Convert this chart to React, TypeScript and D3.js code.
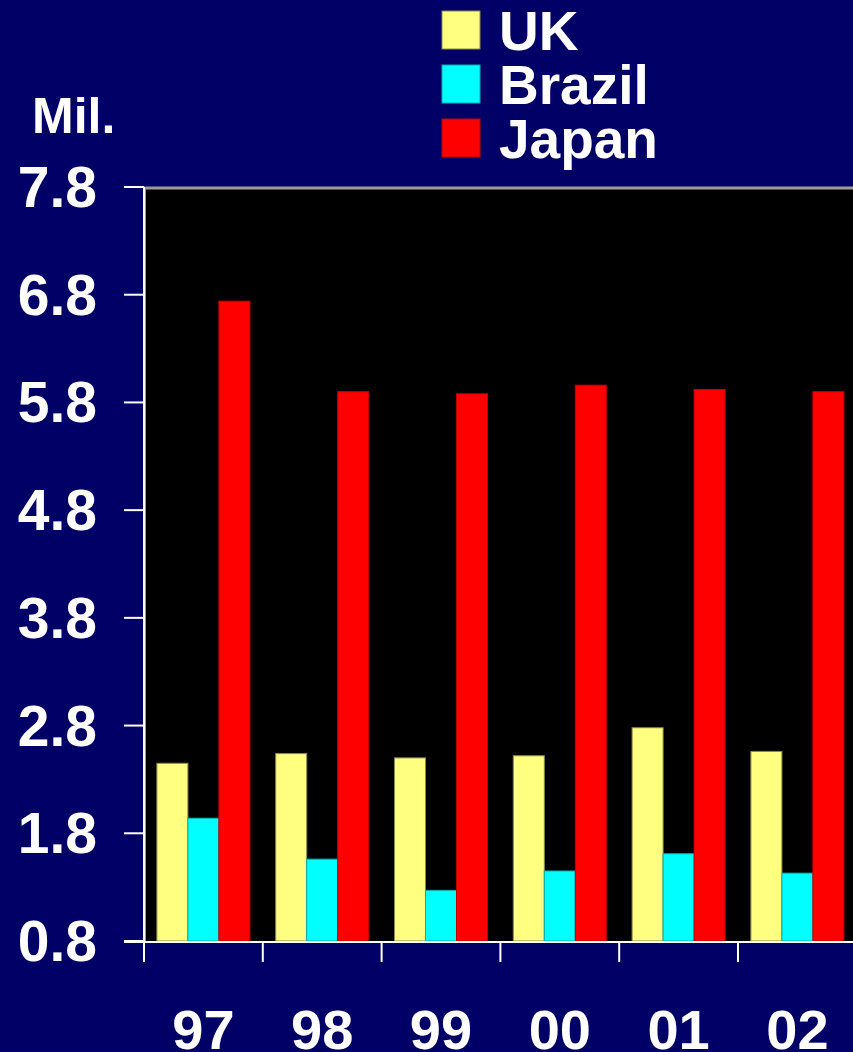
import React from "react";
import * as d3 from "d3";

const years = ["97", "98", "99", "00", "01", "02"];
const seriesNames = ["UK", "Brazil", "Japan"];
const ukValues = [2.45, 2.54, 2.5, 2.52, 2.78, 2.56];
const brazilValues = [1.94, 1.56, 1.27, 1.45, 1.61, 1.43];
const japanValues = [6.74, 5.9, 5.88, 5.96, 5.92, 5.9];
const yTicks = [0.8, 1.8, 2.8, 3.8, 4.8, 5.8, 6.8, 7.8];
const seriesColors = ["#ffff80", "#00ffff", "#ff0000"];
const seriesStrokes = ["#8a8a50", "#00b0b0", "#c00000"];

const W = 853;
const H = 1052;
const FONT = "'Liberation Sans', Arial, Helvetica, sans-serif";

export default function App() {
  const plotLeft = 144;
  const step = 118.8;
  const plotTop = 187;
  const plotBottom = 941;

  const x = d3
    .scaleBand<string>()
    .domain(years)
    .range([plotLeft, plotLeft + step * years.length])
    .padding(0);
  const groupWidth = 93;
  const xs = d3.scaleBand<string>().domain(seriesNames).range([0, groupWidth]).padding(0);
  const y = d3.scaleLinear().domain([0.8, 7.8]).range([plotBottom, plotTop]);

  const values = [ukValues, brazilValues, japanValues];
  const groupOffset = (x.bandwidth() - groupWidth) / 2;

  return (
    <svg
      width={W}
      height={H}
      style={{ position: "absolute", left: 0, top: 0, display: "block" }}
      fontFamily={FONT}
      fontWeight="bold"
    >
      <rect x={0} y={0} width={W} height={H} fill="#000066" />

      {/* plot area */}
      <rect x={plotLeft} y={plotTop} width={W - plotLeft + 10} height={plotBottom - plotTop} fill="#000000" />
      <line x1={plotLeft} x2={W} y1={plotTop + 1} y2={plotTop + 1} stroke="#9a9a9a" strokeWidth={3} />

      {/* bars */}
      {years.map((yr, i) => (
        <g key={yr} transform={`translate(${(x(yr) ?? 0) + groupOffset},0)`}>
          {seriesNames.map((s, j) => {
            const v = values[j][i];
            return (
              <rect
                key={s}
                x={xs(s)}
                y={y(v)}
                width={xs.bandwidth()}
                height={plotBottom - y(v)}
                fill={seriesColors[j]}
                stroke={seriesStrokes[j]}
                strokeWidth={1}
              />
            );
          })}
        </g>
      ))}

      {/* y axis */}
      <line x1={plotLeft} x2={plotLeft} y1={plotTop} y2={plotBottom + 1} stroke="#ffffff" strokeWidth={2} />
      <line x1={plotLeft + 1.5} x2={plotLeft + 1.5} y1={plotTop} y2={plotBottom} stroke="#9a9a9a" strokeWidth={1} />
      {yTicks.map((t) => (
        <g key={t}>
          <line x1={plotLeft - 20} x2={plotLeft} y1={y(t)} y2={y(t)} stroke="#ffffff" strokeWidth={2} />
          <text x={97} y={y(t) + 20} textAnchor="end" fontSize={57} fill="#ffffff">
            {t.toFixed(1)}
          </text>
        </g>
      ))}
      <text x={32} y={133} fontSize={50} fill="#ffffff">
        Mil.
      </text>

      {/* x axis */}
      <line x1={plotLeft - 20} x2={W} y1={plotBottom + 1} y2={plotBottom + 1} stroke="#ffffff" strokeWidth={2} />
      {years.map((yr) => (
        <g key={yr}>
          <line
            x1={x(yr) ?? 0}
            x2={x(yr) ?? 0}
            y1={plotBottom}
            y2={plotBottom + 21}
            stroke="#ffffff"
            strokeWidth={2}
          />
          <text
            x={(x(yr) ?? 0) + x.bandwidth() / 2}
            y={1049}
            textAnchor="middle"
            fontSize={56}
            fill="#ffffff"
          >
            {yr}
          </text>
        </g>
      ))}

      {/* legend */}
      {seriesNames.map((s, j) => (
        <g key={s} transform={`translate(442,${11 + j * 54})`}>
          <rect x={0} y={0} width={38} height={38} fill={seriesColors[j]} stroke={seriesStrokes[j]} strokeWidth={1} />
          <text x={57} y={39} fontSize={55} fill="#ffffff">
            {s}
          </text>
        </g>
      ))}
    </svg>
  );
}
